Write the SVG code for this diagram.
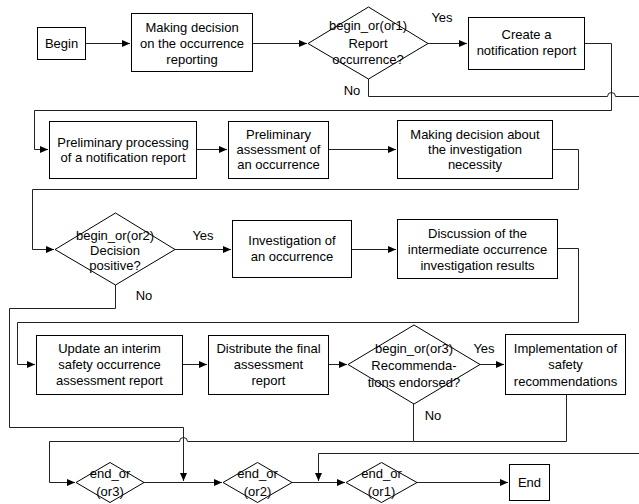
<svg xmlns="http://www.w3.org/2000/svg" width="639" height="504" viewBox="0 0 639 504">
<style>
.n{fill:#fff;stroke:#000;stroke-width:1}
.t{font-family:"Liberation Sans",Arial,sans-serif;font-size:13px;fill:#000;text-anchor:middle}
.c{fill:none;stroke:#222;stroke-width:1}
</style>
<defs>
<marker id="a" markerUnits="userSpaceOnUse" markerWidth="9" markerHeight="8" refX="8" refY="3.5" orient="auto">
<path d="M0,0 L8,3.5 L0,7 z" fill="#000"/>
</marker>
</defs>
<rect width="639" height="504" fill="#fff"/>
<g id="connectors">
<path class="c" d="M86,43.5 H130" marker-end="url(#a)"/>
<path class="c" d="M253,43.5 H307" marker-end="url(#a)"/>
<path class="c" d="M428,43.5 H467" marker-end="url(#a)"/>
<path class="c" d="M584,43.5 H611.5 V110.5 H34.5 V149.5 H48" marker-end="url(#a)"/>
<path class="c" d="M368.5,79 V96.5 H607.5 A4,4 0 0 1 615.5,96.5 H660 V453.5 H318.5 V481" marker-end="url(#a)"/>
<path class="c" d="M196,149.5 H227" marker-end="url(#a)"/>
<path class="c" d="M328,149.5 H396" marker-end="url(#a)"/>
<path class="c" d="M552,149.5 H578.5 V189.5 H32.5 V249.5 H54" marker-end="url(#a)"/>
<path class="c" d="M175,249.5 H231" marker-end="url(#a)"/>
<path class="c" d="M351,249.5 H396" marker-end="url(#a)"/>
<path class="c" d="M557,248.5 H578.5 V322.5 H17.5 V364.5 H35" marker-end="url(#a)"/>
<path class="c" d="M115.5,285 V308.5 H9.5 V427.5 H183.5 V481" marker-end="url(#a)"/>
<path class="c" d="M182,364.5 H207" marker-end="url(#a)"/>
<path class="c" d="M328,364.5 H347" marker-end="url(#a)"/>
<path class="c" d="M480,364.5 H504" marker-end="url(#a)"/>
<path class="c" d="M413.5,404 V441.5 H187.5 A4,4 0 0 0 179.5,441.5 H49.5 V482.5 H75" marker-end="url(#a)"/>
<path class="c" d="M566.5,394 V441.5 H413.5"/>
<path class="c" d="M143,482.5 H222" marker-end="url(#a)"/>
<path class="c" d="M292,482.5 H345" marker-end="url(#a)"/>
<path class="c" d="M417,482.5 H508" marker-end="url(#a)"/>
</g>
<g id="begin"><rect class="n" x="37.5" y="27.5" width="48" height="32"/><text class="t" x="61.5" y="48">Begin</text></g>
<g id="making-decision"><rect class="n" x="131.5" y="13.5" width="121" height="58"/><text class="t" x="192" y="31.5">Making decision</text><text class="t" x="192" y="47.5">on the occurrence</text><text class="t" x="192" y="63.5">reporting</text></g>
<g id="or1"><path class="n" d="M308,43.5 L368.5,7 L428,43.5 L368.5,79 Z"/><text class="t" x="368" y="29.5">begin_or(or1)</text><text class="t" x="368" y="47.5">Report</text><text class="t" x="368" y="63.5">occurrence?</text></g>
<g id="create-report"><rect class="n" x="468.5" y="17.5" width="116" height="52"/><text class="t" x="526.5" y="39">Create a</text><text class="t" x="526.5" y="55">notification report</text></g>
<g id="prelim-processing"><rect class="n" x="49.5" y="121.5" width="147" height="57"/><text class="t" x="123" y="146.5">Preliminary processing</text><text class="t" x="123" y="161.5">of a notification report</text></g>
<g id="prelim-assessment"><rect class="n" x="228.5" y="121.5" width="100" height="57"/><text class="t" x="278.5" y="138.5">Preliminary</text><text class="t" x="278.5" y="153.5">assessment of</text><text class="t" x="278.5" y="168.5">an occurrence</text></g>
<g id="decision-investigation"><rect class="n" x="397.5" y="120.5" width="155" height="58"/><text class="t" x="475" y="138.5">Making decision about</text><text class="t" x="475" y="153.5">the investigation</text><text class="t" x="475" y="168.5">necessity</text></g>
<g id="or2"><path class="n" d="M55,249.5 L115.5,213 L175,249.5 L115.5,285 Z"/><text class="t" x="115" y="239.5">begin_or(or2)</text><text class="t" x="115" y="254.5">Decision</text><text class="t" x="115" y="269.5">positive?</text></g>
<g id="investigation"><rect class="n" x="232.5" y="220.5" width="119" height="57"/><text class="t" x="292" y="244.5">Investigation of</text><text class="t" x="292" y="261">an occurrence</text></g>
<g id="discussion"><rect class="n" x="397.5" y="219.5" width="160" height="59"/><text class="t" x="477.5" y="237.5">Discussion of the</text><text class="t" x="477.5" y="253.5">intermediate occurrence</text><text class="t" x="477.5" y="269.5">investigation results</text></g>
<g id="update"><rect class="n" x="36.5" y="335.5" width="146" height="59"/><text class="t" x="109.5" y="352.5">Update an interim</text><text class="t" x="109.5" y="368.5">safety occurrence</text><text class="t" x="109.5" y="385">assessment report</text></g>
<g id="distribute"><rect class="n" x="208.5" y="335.5" width="120" height="59"/><text class="t" x="268.5" y="352.5">Distribute the final</text><text class="t" x="268.5" y="368.5">assessment</text><text class="t" x="268.5" y="385">report</text></g>
<g id="or3"><path class="n" d="M348,364.5 L414,325 L480,364.5 L414,404 Z"/><text class="t" x="414" y="352.5">begin_or(or3)</text><text class="t" x="414" y="369.5">Recommenda-</text><text class="t" x="414" y="386.5">tions endorsed?</text></g>
<g id="implementation"><rect class="n" x="505.5" y="334.5" width="120" height="60"/><text class="t" x="565.5" y="352.5">Implementation of</text><text class="t" x="565.5" y="369">safety</text><text class="t" x="565.5" y="385.5">recommendations</text></g>
<g id="end-or3"><path class="n" d="M76,482.5 L110,462.5 L144,482.5 L110,502.5 Z"/><text class="t" x="110" y="477.5">end_or</text><text class="t" x="110" y="495.5">(or3)</text></g>
<g id="end-or2"><path class="n" d="M223,482.5 L257.5,462.5 L292,482.5 L257.5,502.5 Z"/><text class="t" x="257.5" y="477.5">end_or</text><text class="t" x="257.5" y="495.5">(or2)</text></g>
<g id="end-or1"><path class="n" d="M346,482.5 L381.5,462.5 L417,482.5 L381.5,502.5 Z"/><text class="t" x="381.5" y="477.5">end_or</text><text class="t" x="381.5" y="495.5">(or1)</text></g>
<g id="end"><rect class="n" x="509.5" y="464.5" width="40" height="36"/><text class="t" x="529.5" y="487">End</text></g>
<g id="labels">
<text class="t" x="442" y="21.5">Yes</text>
<text class="t" x="352" y="94.5">No</text>
<text class="t" x="203" y="239.5">Yes</text>
<text class="t" x="144" y="299.5">No</text>
<text class="t" x="484" y="352.5">Yes</text>
<text class="t" x="433" y="419.5">No</text>
</g>
</svg>
